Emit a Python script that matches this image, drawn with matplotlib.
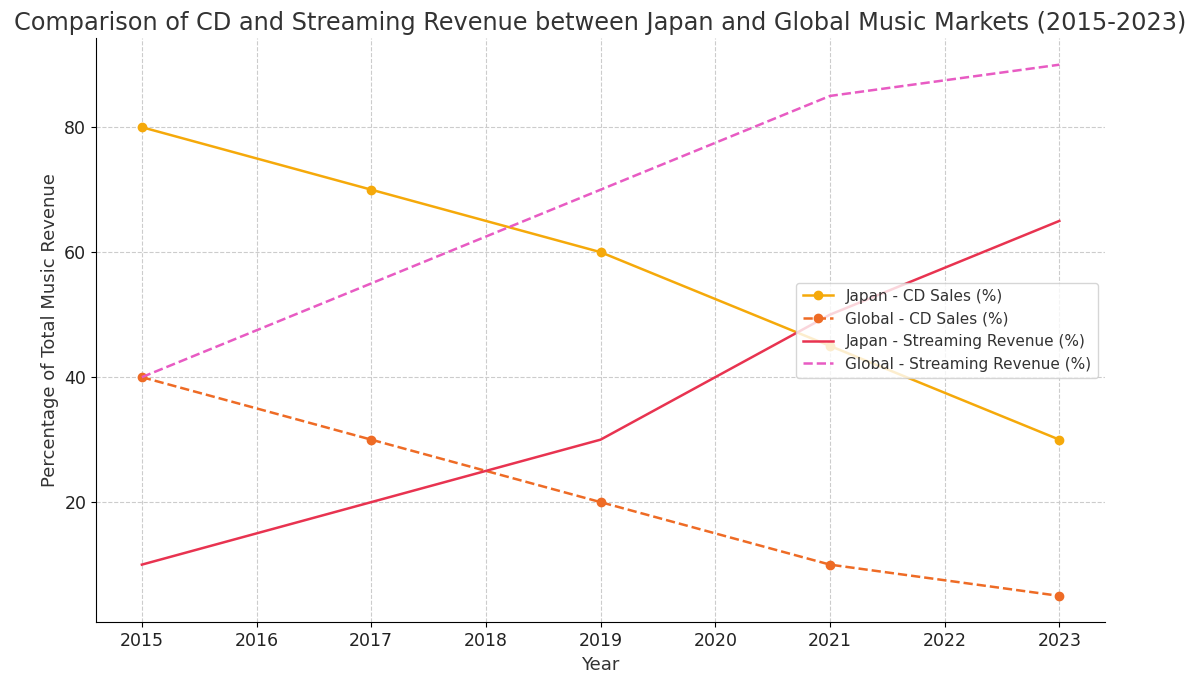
import matplotlib
matplotlib.use("Agg")
import matplotlib.pyplot as plt

years = [2015, 2017, 2019, 2021, 2023]
japan_cd = [80, 70, 60, 45, 30]
global_cd = [40, 30, 20, 10, 5]
japan_streaming = [10, 20, 30, 50, 65]
global_streaming = [40, 55, 70, 85, 90]

fig, ax = plt.subplots(figsize=(12, 6.81), dpi=100)

lw = 1.8
ax.plot(years, japan_cd, marker="o", lw=lw, color="#f5a90a", label="Japan - CD Sales (%)")
ax.plot(years, global_cd, marker="o", lw=lw, linestyle="--", color="#ee6b25", label="Global - CD Sales (%)")
ax.plot(years, japan_streaming, lw=lw, color="#e83350", label="Japan - Streaming Revenue (%)")
ax.plot(years, global_streaming, lw=lw, linestyle="--", color="#e85bc3", label="Global - Streaming Revenue (%)")

ax.set_title("Comparison of CD and Streaming Revenue between Japan and Global Music Markets (2015-2023)",
             fontsize=17.3, color="#333333")
ax.set_xlabel("Year", fontsize=13, color="#333333")
ax.set_ylabel("Percentage of Total Music Revenue", fontsize=13, color="#333333")
ax.tick_params(labelsize=12.5, labelcolor="#222222")
ax.grid(True, linestyle="--", color="#cccccc", linewidth=0.8)
ax.spines["top"].set_visible(False)
ax.spines["right"].set_visible(False)
leg = ax.legend(loc="center right", fontsize=11)
for t in leg.get_texts():
    t.set_color("#333333")

fig.subplots_adjust(left=0.08, right=0.921, top=0.944, bottom=0.086)
fig.savefig("out.png")
